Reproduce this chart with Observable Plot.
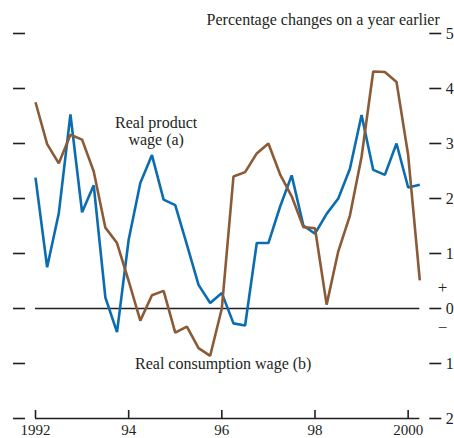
<!DOCTYPE html>
<html><head><meta charset="utf-8">
<script src="https://cdn.jsdelivr.net/npm/d3@7"></script>
<script src="https://cdn.jsdelivr.net/npm/@observablehq/plot@0.6"></script>
<style>body{margin:0;background:#fff}</style>
</head><body><div id="chart"></div>
<script>
// Quarterly observations, 1992 Q1 to 2000 Q2 (decimal years)
const quarters = [1992.00,1992.25,1992.50,1992.75,1993.00,1993.25,1993.50,1993.75,
  1994.00,1994.25,1994.50,1994.75,1995.00,1995.25,1995.50,1995.75,
  1996.00,1996.25,1996.50,1996.75,1997.00,1997.25,1997.50,1997.75,
  1998.00,1998.25,1998.50,1998.75,1999.00,1999.25,1999.50,1999.75,
  2000.00,2000.25];
// Real product wage (a), % change on a year earlier
const productWage = [2.38,0.75,1.73,3.53,1.75,2.24,0.20,-0.43,
  1.25,2.28,2.79,1.98,1.88,1.16,0.43,0.10,
  0.28,-0.27,-0.31,1.19,1.19,1.85,2.42,1.51,
  1.36,1.72,2.00,2.54,3.52,2.52,2.43,3.00,
  2.20,2.25];
// Real consumption wage (b), % change on a year earlier
const consumptionWage = [3.75,2.99,2.64,3.16,3.07,2.49,1.47,1.19,
  0.50,-0.22,0.24,0.32,-0.44,-0.33,-0.72,-0.86,
  0.00,2.40,2.48,2.82,3.00,2.44,2.04,1.48,
  1.46,0.07,1.04,1.69,2.76,4.31,4.30,4.12,
  2.79,0.51];
const yTicks = [-2,-1,0,1,2,3,4,5];
const xTicks = [1992,1994,1996,1998,2000];
const xTickLabels = ["1992","94","96","98","2000"];
const title = "Percentage changes on a year earlier";
const seriesLabels = [
  {x:1994.59, y:3.22, text:"Real product\nwage (a)"},
  {x:1996.03, y:-1.0, text:"Real consumption wage (b)"}
];
const signLabels = [{y:0.39, text:"+"},{y:-0.34, text:"\u2212"}];

const productData = quarters.map((q,i)=>({x:q, y:productWage[i]}));
const consData = quarters.map((q,i)=>({x:q, y:consumptionWage[i]}));
const ink = "#231f20";
const W = 454, H = 438, mT = 33, mB = 20;

const chart = Plot.plot({
  width: W, height: H,
  marginLeft: 35, marginRight: 34.7, marginTop: mT, marginBottom: mB,
  x: {domain: [1992, 2000.25]},
  y: {domain: [-2, 5]},
  style: {fontFamily: "'Liberation Serif','Times New Roman',serif", fontSize: "16px", background: "#fff", color: ink},
  marks: [
    Plot.axisY(yTicks, {anchor: "left", tickSize: 12, dx: -10, strokeWidth: 1.6, tickFormat: () => "", label: null}),
    Plot.axisY(yTicks, {anchor: "right", tickSize: 12, dx: 9, tickPadding: 5, strokeWidth: 1.6, fontSize: 16, tickFormat: d => String(Math.abs(d)), label: null}),
    Plot.axisX(xTicks, {anchor: "bottom", tickSize: 0, tickPadding: 5.5, fontSize: 15, tickFormat: d => xTickLabels[xTicks.indexOf(d)], label: null}),
    Plot.tickX(xTicks, {x: d => d, insetTop: (H - mT - mB) - 8, stroke: ink, strokeWidth: 1.6}),
    Plot.ruleY([-2], {stroke: ink, strokeWidth: 1.6}),
    Plot.ruleY([0], {stroke: ink, strokeWidth: 1.3}),
    Plot.line(productData, {x: "x", y: "y", stroke: "#0b6db0", strokeWidth: 2.6, strokeLinejoin: "miter", strokeLinecap: "butt"}),
    Plot.line(consData, {x: "x", y: "y", stroke: "#8b5a36", strokeWidth: 2.6, strokeLinejoin: "miter", strokeLinecap: "butt"}),
    Plot.text([title], {frameAnchor: "top-right", dx: 20, dy: -14, lineAnchor: "middle", fontSize: 16, fill: ink}),
    Plot.text(seriesLabels, {x: "x", y: "y", text: "text", lineHeight: 1.05, fontSize: 16, fill: ink}),
    Plot.text(signLabels, {y: "y", text: "text", frameAnchor: "right", dx: 22.7, textAnchor: "middle", fontSize: 17, fill: ink})
  ]
});
document.getElementById("chart").appendChild(chart);
</script>
</body></html>
